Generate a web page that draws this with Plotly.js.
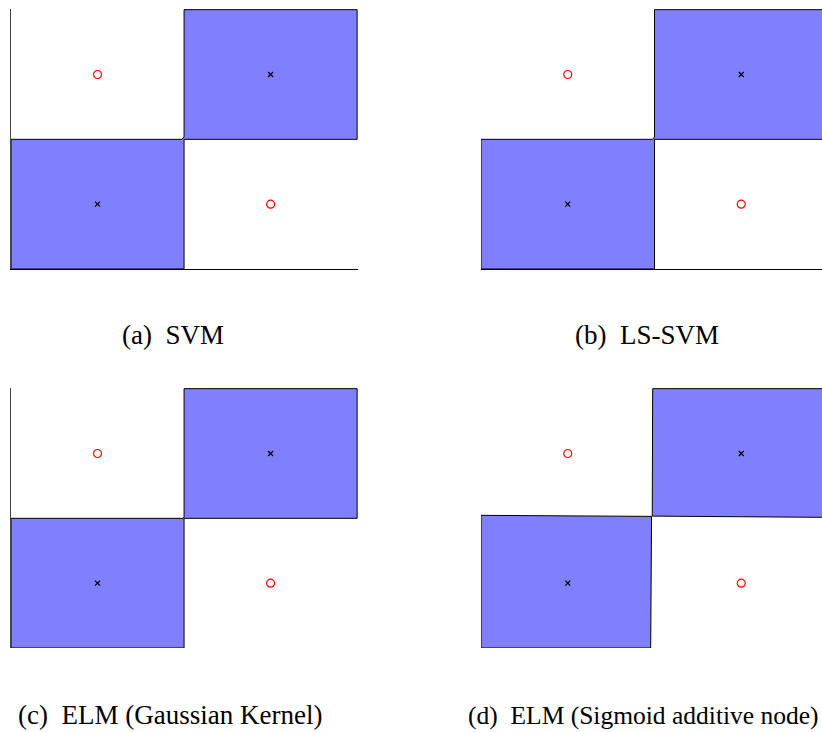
<!DOCTYPE html>
<html>
<head>
<meta charset="utf-8">
<script src="https://cdn.plot.ly/plotly-3.0.1.min.js"></script>
<style>
  html, body { margin: 0; padding: 0; background: #fff; }
  #chart { width: 822px; height: 732px; }
</style>
</head>
<body>
<div id="chart"></div>
<script>
// XOR training samples: class +1 (crosses) and class -1 (circles)
const crossX = [-1, 1];
const crossY = [-1, 1];
const circleX = [-1, 1];
const circleY = [1, -1];

// Panel captions
const captions = [
  "(a)\u00a0\u00a0SVM",
  "(b)\u00a0\u00a0LS-SVM",
  "(c)\u00a0\u00a0ELM (Gaussian Kernel)",
  "(d)\u00a0\u00a0ELM (Sigmoid additive node)"
];

// Decision regions of class +1 (boundary vertices, input space)
const svmRegionX = [-2, 0, 0, 2, 2, 0, 0, -0.023, -2, -2];
const svmRegionY = [-2, -2, 0, 0, 2, 2, 0.038, 0, 0, -2];

const lssvmRegionX = [-2, 0, 0, 2, 2, 0, 0, -0.023, -2, -2];
const lssvmRegionY = [-2, -2, 0, 0, 2, 2, 0.038, 0, 0, -2];

const elmKernelRegionX = [-2, 0, 0, 2, 2, 0, 0, -0.012, -2, -2];
const elmKernelRegionY = [-2, -2, 0, 0, 2, 2, 0.02, 0, 0, -2];

// Sigmoid ELM: two separate slightly tilted regions
const elmSigUpperX = [-0.021, 2, 2, -0.026, -0.021];
const elmSigUpperY = [2, 2, 0.015, 0.034, 2];
const elmSigLowerX = [-2, -0.044, -0.034, -2, -2];
const elmSigLowerY = [-2, -2, 0.03, 0.046, -2];

const FILL = '#8080ff';

function region(xs, ys, n) {
  const sfx = n === 1 ? '' : String(n);
  return {
    type: 'scatter', mode: 'lines', x: xs, y: ys,
    fill: 'toself', fillcolor: FILL,
    line: { color: '#000', width: 1 },
    xaxis: 'x' + sfx, yaxis: 'y' + sfx,
    hoverinfo: 'skip', showlegend: false
  };
}

function samples(n) {
  const sfx = n === 1 ? '' : String(n);
  return [
    {
      type: 'scatter', mode: 'markers', x: circleX, y: circleY,
      marker: { symbol: 'circle-open', size: 8, color: '#ff0000', line: { width: 1.2, color: '#ff0000' } },
      xaxis: 'x' + sfx, yaxis: 'y' + sfx, hoverinfo: 'skip', showlegend: false
    },
    {
      type: 'scatter', mode: 'markers', x: crossX, y: crossY,
      marker: { symbol: 'x-thin-open', size: 5, color: '#000', line: { width: 1.2, color: '#000' } },
      xaxis: 'x' + sfx, yaxis: 'y' + sfx, hoverinfo: 'skip', showlegend: false
    }
  ];
}

const data = [
  region(svmRegionX, svmRegionY, 1),
  region(lssvmRegionX, lssvmRegionY, 2),
  region(elmKernelRegionX, elmKernelRegionY, 3),
  region(elmSigUpperX, elmSigUpperY, 4),
  region(elmSigLowerX, elmSigLowerY, 4),
  ...samples(1), ...samples(2), ...samples(3), ...samples(4)
];

function axis(domain, range, color) {
  return {
    domain: domain, range: range,
    showline: true, linecolor: color, linewidth: 1,
    showgrid: false, zeroline: false, showticklabels: false,
    ticks: '', fixedrange: true
  };
}

const W = 822, H = 732;
const leftDom = [11 / W, 358 / W];
const rightDom = [481 / W, 1];
const topDom = [1 - 269 / H, 1 - 9 / H];
const botDom = [1 - 648 / H, 1 - 388 / H];
const xFull = [-2, 2.01];
const xClipped = [-2, -2 + 4 * (W - 481) / 347];
const yFull = [-2, 2.01];

const serif = 'Liberation Serif';

const layout = {
  width: W, height: H,
  margin: { l: 0, r: 0, t: 0, b: 0 },
  paper_bgcolor: '#fff', plot_bgcolor: '#fff',
  showlegend: false,
  xaxis: axis(leftDom, xFull, '#000'), yaxis: axis(topDom, yFull, '#444'),
  xaxis2: axis(rightDom, xClipped, '#000'), yaxis2: axis(topDom, yFull, '#444'),
  xaxis3: axis(leftDom, xFull, '#000'), yaxis3: axis(botDom, yFull, '#444'),
  xaxis4: axis(rightDom, xClipped, '#000'), yaxis4: axis(botDom, yFull, '#444'),
  annotations: [
    { text: captions[0], x: 173 / W, y: 1 - 335 / H, xanchor: 'center', size: 27 },
    { text: captions[1], x: 647 / W, y: 1 - 335 / H, xanchor: 'center', size: 27 },
    { text: captions[2], x: 170 / W, y: 1 - 715 / H, xanchor: 'center', size: 27 },
    { text: captions[3], x: 466 / W, y: 1 - 715 / H, xanchor: 'left', size: 25.5 }
  ].map(a => ({
    text: a.text, x: a.x, y: a.y, xanchor: a.xanchor, yanchor: 'middle',
    xref: 'paper', yref: 'paper', showarrow: false,
    font: { family: serif, size: a.size, color: '#000' }
  }))
};

Plotly.newPlot('chart', data, layout, { displayModeBar: false, staticPlot: true });
</script>
</body>
</html>
